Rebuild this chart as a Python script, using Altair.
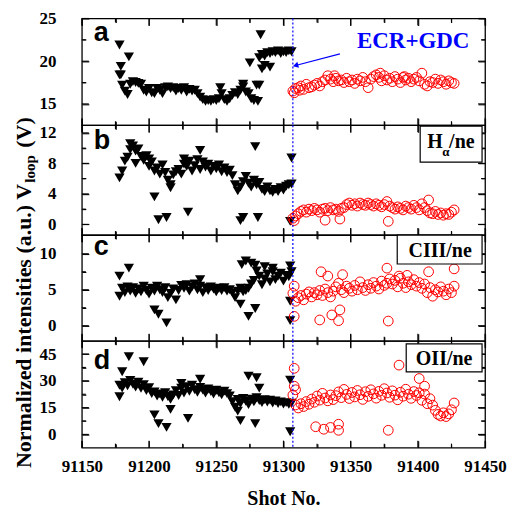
import altair as alt
import pandas as pd

# ---------------- data ----------------
x_major = [91150, 91200, 91250, 91300, 91350, 91400, 91450]
x_minor = [91175, 91225, 91275, 91325, 91375, 91425]
ecr_shot = [91307]

black_shots = list(range(91178, 91307, 2))   # 65 shots before ECR+GDC
red_shots = list(range(91307, 91428, 2))     # 61 shots after ECR+GDC

# panel a : V_loop
a_black = [18.4, 17.2, 16.5, 16.1, 17.3, 17.6, 17.5, 17.4, 17.3, 16.6, 16.4, 16.8, 16.3, 16.2, 16.8, 16.6,
           16.2, 16.9, 17.0, 16.8, 16.9, 16.5, 16.8, 16.6, 16.9, 16.4, 16.7, 16.5, 16.6, 16.2, 15.8, 15.5,
           15.3, 15.4, 15.3, 15.5, 15.4, 15.6, 16.2, 15.5, 15.3, 15.6, 16.0, 16.3, 16.1, 16.6, 17.0, 16.4,
           16.2, 15.6, 15.4, 17.2, 20.4, 20.8, 20.6, 21.0, 20.9, 21.1, 21.0, 21.2, 20.9, 21.1, 21.0, 21.2, 21.1]
a_black_x_shot = [91178, 91179, 91179, 91185, 91253, 91270, 91275, 91283, 91284, 91286, 91281, 91290, 91282]
a_black_x_val = [21.9, 19.4, 18.4, 20.5, 16.9, 17.3, 19.8, 23.1, 19.1, 19.5, 15.3, 19.3, 17.2]
a_red = [16.5, 16.8, 16.9, 17.1, 16.7, 17.3, 16.9, 17.0, 17.2, 17.4, 17.1, 17.6, 17.8, 18.3, 17.9, 17.6,
         18.0, 17.7, 17.8, 17.5, 18.0, 17.6, 17.8, 17.4, 17.9, 17.7, 18.1, 17.6, 16.9, 17.9, 18.2, 18.4,
         18.1, 17.7, 18.3, 17.8, 18.0, 17.6, 18.2, 17.9, 17.5, 18.1, 17.8, 18.0, 17.6, 17.9, 18.1, 17.7,
         18.6, 17.3, 17.1, 17.6, 17.5, 17.9, 17.4, 17.8, 17.6, 17.3, 17.7, 17.5, 17.4]
a_red_x_shot = [91308, 91312, 91338, 91372, 91390]
a_red_x_val = [16.3, 16.6, 18.3, 18.6, 18.2]

# panel b : H_alpha / ne
b_black = [6.1, 7.0, 8.3, 8.8, 9.8, 10.3, 9.6, 9.9, 8.9, 8.4, 9.0, 7.6, 8.2, 7.0, 7.4, 6.6,
           7.8, 6.8, 5.8, 5.2, 6.5, 6.9, 7.2, 6.6, 7.9, 7.6, 8.3, 7.0, 7.7, 8.5, 7.2, 8.2,
           7.5, 7.9, 7.0, 7.6, 7.3, 7.8, 6.9, 7.4, 6.8, 7.1, 6.4, 5.2, 4.4, 4.9, 5.6, 6.3,
           5.4, 4.9, 5.8, 5.2, 5.5, 4.6, 4.3, 4.9, 4.4, 4.2, 4.6, 4.3, 4.8, 4.5, 5.0, 5.2, 5.3]
b_black_x_shot = [91186, 91204, 91207, 91213, 91216, 91229, 91238, 91268, 91270, 91279, 91281, 91306, 91305,
                  91200, 91190, 91226]
b_black_x_val = [10.6, 3.6, 0.6, 0.9, 4.8, 1.6, 9.7, 0.5, 0.9, 10.2, 0.9, 8.7, 0.4, 8.6, 8.0, 8.6]
b_red = [0.8, 1.1, 1.4, 1.7, 1.9, 1.6, 2.0, 1.8, 2.1, 1.9, 1.6, 2.0, 2.1, 1.8, 2.2, 1.9,
         2.0, 1.7, 2.1, 2.2, 2.6, 2.8, 2.5, 2.7, 2.4, 2.8, 2.6, 2.5, 2.8, 2.6, 2.4, 2.7,
         2.5, 2.3, 2.6, 3.0, 2.4, 2.2, 2.0, 2.3, 2.1, 1.9, 2.4, 2.2, 2.0, 2.5, 2.2, 1.9,
         2.7, 2.2, 1.8, 1.5, 1.4, 1.7, 1.3, 1.5, 1.2, 1.4, 1.3, 1.6, 1.9]
b_red_x_shot = [91331, 91342, 91378, 91408, 91308]
b_red_x_val = [0.55, 0.7, 0.4, 3.2, 0.5]

# panel c : CIII / ne
c_black = [4.1, 5.2, 4.6, 5.4, 4.8, 5.3, 4.5, 5.1, 4.7, 5.5, 4.9, 4.4, 5.2, 4.8, 5.5, 5.0,
           4.6, 5.3, 3.9, 4.5, 5.1, 3.6, 4.9, 5.6, 5.2, 5.7, 4.8, 5.4, 5.8, 5.0, 5.5, 4.6,
           5.3, 4.9, 5.4, 5.1, 4.7, 5.2, 4.9, 5.3, 4.8, 5.0, 4.6, 3.9, 4.8, 5.2, 4.7, 4.9,
           5.2, 5.8, 6.3, 7.6, 6.9, 5.7, 6.5, 7.2, 6.1, 7.5, 6.4, 6.9, 7.3, 6.2, 7.0, 6.8, 7.5]
c_black_x_shot = [91178, 91185, 91204, 91207, 91213, 91238, 91268, 91269, 91272, 91276, 91279, 91274,
                  91279, 91305, 91305, 91305, 91286, 91292]
c_black_x_val = [6.9, 8.0, 2.2, 1.6, 0.4, 6.4, 3.0, 8.5, 9.0, 8.7, 8.4, 1.3,
                 2.4, 8.3, 3.4, 0.7, 8.2, 8.0]
c_red = [4.5, 3.4, 3.9, 4.2, 3.6, 4.4, 4.7, 4.0, 4.6, 4.3, 4.9, 4.2, 5.1, 4.6, 4.0, 4.8,
         5.4, 5.9, 5.0, 4.6, 5.5, 5.2, 4.8, 5.6, 5.0, 6.1, 5.3, 4.9, 5.7, 5.2, 6.0, 5.5,
         5.1, 6.2, 5.6, 5.9, 6.5, 5.8, 6.3, 5.4, 6.6, 5.9, 5.3, 6.1, 5.7, 6.4, 5.5, 6.0,
         5.2, 5.8, 4.6, 5.3, 4.1, 5.0, 4.7, 5.4, 4.8, 4.3, 5.1, 4.6, 5.5]
c_red_x_shot = [91308, 91308, 91328, 91333, 91327, 91336, 91342, 91341, 91344, 91377, 91378, 91408,
                91427, 91386, 91392]
c_red_x_val = [5.5, 1.3, 7.5, 6.9, 0.8, 1.5, 2.2, 0.7, 7.1, 8.0, 0.65, 7.5, 7.9, 6.9, 7.0]

# panel d : OII / ne
d_black = [27.5, 26.0, 29.0, 27.2, 30.2, 28.1, 26.5, 29.3, 25.8, 27.9, 24.6, 26.2, 22.9, 23.8, 21.5, 22.7,
           20.8, 23.4, 21.2, 19.6, 22.1, 24.5, 21.8, 25.9, 23.2, 26.7, 24.1, 27.5, 25.0, 23.6, 26.3, 24.8,
           23.1, 25.4, 24.0, 22.6, 24.7, 23.3, 22.1, 24.2, 22.8, 21.5, 18.4, 15.2, 19.6, 17.3, 20.1, 18.5,
           16.7, 19.8, 18.2, 20.5, 19.0, 17.8, 19.5, 18.1, 19.2, 17.6, 18.7, 17.3, 18.2, 17.0, 17.8, 16.9, 17.5]
d_black_x_shot = [91180, 91185, 91196, 91178, 91204, 91207, 91213, 91216, 91229, 91238, 91268, 91274,
                  91280, 91279, 91282, 91305, 91305, 91266, 91224]
d_black_x_val = [35.1, 43.5, 40.7, 21.1, 10.9, 6.0, 3.9, 14.0, 9.0, 30.9, 7.7, 32.6,
                 31.7, 6.0, 25.9, 30.4, 1.5, 13.0, 28.5]
d_red = [22.0, 16.5, 14.8, 17.2, 15.6, 18.4, 16.9, 19.8, 18.0, 21.5, 19.2, 23.0, 20.4, 18.8, 22.1, 19.5,
         21.7, 23.8, 20.6, 25.2, 22.4, 20.1, 23.5, 21.0, 24.6, 22.2, 19.6, 23.9, 21.3, 25.0, 22.7, 20.3,
         24.1, 21.9, 25.6, 23.2, 20.8, 24.4, 22.0, 19.4, 23.6, 21.4, 25.3, 22.5, 20.2, 24.0, 21.8, 23.3,
         19.1, 22.6, 17.2, 20.0, 16.4, 13.5, 11.2, 10.3, 12.1, 10.0, 11.5, 13.8, 17.6]
d_red_x_shot = [91308, 91308, 91324, 91330, 91335, 91341, 91341, 91378, 91386, 91401, 91405, 91309]
d_red_x_val = [37.0, 27.0, 4.3, 2.9, 3.9, 5.7, 2.3, 2.3, 38.8, 31.3, 27.0, 25.0]

# annotation arrow (panel a, data units)
arrow_shot = [91342, 91309]
arrow_val = [20.85, 19.5]

SERIF = "Liberation Serif"
SANS = "Liberation Sans"
W = 404
X_DOMAIN = [91150, 91450]
MAJ, MIN = 7, 4
VBAR = "M0,-1L0,1"   # vertical stroke symbol
HBAR = "M-1,0L1,0"   # horizontal stroke symbol


def df(s, v):
    return pd.DataFrame({"shot": s, "val": v})


def inward(n):
    return alt.ExprRef(expr=str(-n))


def tick_axis(orient, values, size):
    # axis shifted inside the frame so that its outward ticks end on the frame: inward ticks
    return alt.Axis(orient=orient, values=values, ticks=True, tickSize=size, offset=inward(size),
                    tickColor="black", tickWidth=1.1, labels=False, title=None)


def tick_layers(sx, sy, ydom, ymaj, ymin):
    """Inward ticks on all four sides: short stroke symbols placed through the scales
    at the frame edges and nudged inside by half their length."""
    out = []
    for vals, size in ((x_major, MAJ), (x_minor, MIN)):
        for edge, off in ((ydom[0], -size / 2), (ydom[1], size / 2)):
            d = df(vals, [edge] * len(vals))
            out.append(alt.Chart(d).mark_point(
                shape=VBAR, size=size * size, filled=False, color="black", strokeWidth=1.1,
                opacity=1, yOffset=off).encode(
                x=alt.X("shot:Q", scale=sx, axis=None), y=alt.Y("val:Q", scale=sy, axis=None)))
    for vals, size in ((ymaj, MAJ), (ymin, MIN)):
        for edge, off in ((X_DOMAIN[0], size / 2), (X_DOMAIN[1], -size / 2)):
            d = df([edge] * len(vals), vals)
            out.append(alt.Chart(d).mark_point(
                shape=HBAR, size=size * size, filled=False, color="black", strokeWidth=1.1,
                opacity=1, xOffset=off).encode(
                x=alt.X("shot:Q", scale=sx, axis=None), y=alt.Y("val:Q", scale=sy, axis=None)))
    return out


def panel(letter, letter_y, ydom, ymaj, ymin, bk, bkxs, bkxv, rd, rdxs, rdxv,
          last=False, box=None):
    sx = alt.Scale(domain=X_DOMAIN, nice=False, zero=False)
    sy = alt.Scale(domain=ydom, nice=False, zero=False)
    tri = dict(shape="triangle-down", filled=True, color="black", size=105, opacity=1)
    circ = dict(shape="circle", filled=False, color="#ff0000", size=95, strokeWidth=1, opacity=1)

    xb_kw = dict(orient="bottom", values=x_major, ticks=True, tickSize=MAJ, offset=inward(MAJ),
                 tickColor="black", tickWidth=1.1, labels=last, format="d",
                 labelPadding=11, labelFlush=False, labelOverlap=False)
    if last:
        xb_kw.update(title="Shot No.", titlePadding=14)
    else:
        xb_kw.update(title=None)
    yl_kw = dict(orient="left", values=ymaj, ticks=True, tickSize=MAJ, offset=inward(MAJ),
                 tickColor="black", tickWidth=1.1, labelPadding=26, labelFlush=False,
                 labelOverlap=False, title=None)

    l1 = alt.Chart(df(black_shots, bk)).mark_point(**tri).encode(
        x=alt.X("shot:Q", scale=sx, axis=alt.Axis(**xb_kw)),
        y=alt.Y("val:Q", scale=sy, axis=alt.Axis(**yl_kw)))
    l2 = alt.Chart(df(bkxs, bkxv)).mark_point(**tri).encode(
        x=alt.X("shot:Q", scale=sx, axis=tick_axis("bottom", x_minor, MIN)),
        y=alt.Y("val:Q", scale=sy, axis=tick_axis("left", ymin, MIN)))
    l3 = alt.Chart(df(red_shots, rd)).mark_point(**circ).encode(
        x=alt.X("shot:Q", scale=sx, axis=tick_axis("top", x_major, MAJ)),
        y=alt.Y("val:Q", scale=sy, axis=tick_axis("right", ymaj, MAJ)))
    l4 = alt.Chart(df(rdxs, rdxv)).mark_point(**circ).encode(
        x=alt.X("shot:Q", scale=sx, axis=tick_axis("top", x_minor, MIN)),
        y=alt.Y("val:Q", scale=sy, axis=tick_axis("right", ymin, MIN)))
    vline = alt.Chart(pd.DataFrame({"shot": ecr_shot})).mark_rule(
        color="#0000ff", strokeWidth=1.2, strokeDash=[2, 2]).encode(
        x=alt.X("shot:Q", scale=sx, axis=None))
    lab = alt.Chart(pd.DataFrame({"t": [letter]})).mark_text(
        font=SANS, fontWeight="bold", fontSize=27, align="left", baseline="alphabetic",
        color="black").encode(text="t:N", x=alt.value(12), y=alt.value(letter_y))
    layers = [l1, l2, l3, l4] + tick_layers(sx, sy, ydom, ymaj, ymin) + [vline, lab]
    if box is not None:
        bx0, bx1, by0, by1, parts = box
        rect = alt.Chart(pd.DataFrame({"k": [1]})).mark_rect(
            fill="white", stroke="black", strokeWidth=1.2).encode(
            x=alt.value(bx0), x2=alt.value(bx1), y=alt.value(by0), y2=alt.value(by1))
        layers.append(rect)
        for txt, tx, ty, fs, al in parts:
            layers.append(alt.Chart(pd.DataFrame({"t": [txt]})).mark_text(
                font=SERIF, fontWeight="bold", fontSize=fs, align=al, baseline="alphabetic",
                color="black").encode(text="t:N", x=alt.value(tx), y=alt.value(ty)))
    return layers, sx, sy


# panel a
la, sxa, sya = panel("a", 23, [12.5, 25], [15, 20, 25], [17.5, 22.5],
                     a_black, a_black_x_shot, a_black_x_val, a_red, a_red_x_shot, a_red_x_val)
ecr = alt.Chart(pd.DataFrame({"t": ["ECR+GDC"]})).mark_text(
    font=SERIF, fontWeight="bold", fontSize=23, align="center", baseline="alphabetic",
    color="#0000ff").encode(text="t:N", x=alt.value(332), y=alt.value(30))
arrow_df = pd.DataFrame({"shot": arrow_shot, "val": arrow_val})
arrow_line = alt.Chart(arrow_df).mark_line(color="#0000ff", strokeWidth=1.2).encode(
    x=alt.X("shot:Q", scale=sxa, axis=None), y=alt.Y("val:Q", scale=sya, axis=None))
arrow_head = alt.Chart(arrow_df.iloc[[1]]).mark_point(
    shape="triangle-left", filled=True, color="#0000ff", size=40, angle=345, opacity=1).encode(
    x=alt.X("shot:Q", scale=sxa, axis=None), y=alt.Y("val:Q", scale=sya, axis=None))
pa = alt.layer(*la, ecr, arrow_line, arrow_head).resolve_axis(x="independent", y="independent") \
    .properties(width=W, height=107)

# panel b
lb, _, _ = panel("b", 24, [-1.4, 13], [0, 4, 8, 12], [2, 6, 10],
                 b_black, b_black_x_shot, b_black_x_val, b_red, b_red_x_shot, b_red_x_val,
                 box=(339, 401, 1, 37, [("H", 346, 23, 20, "left"), ("\u03b1", 361, 31, 13, "left"),
                                        ("/ne", 368, 23, 20, "left")]))
pb = alt.layer(*lb).resolve_axis(x="independent", y="independent").properties(width=W, height=110)

# panel c (also carries the shared y title, written in three pieces for the subscript)
lc, _, _ = panel("c", 20, [-2.1, 12.6], [0, 5, 10], [2.5, 7.5],
                 c_black, c_black_x_shot, c_black_x_val, c_red, c_red_x_shot, c_red_x_val,
                 box=(316, 401, 0, 29, [("CIII/ne", 359, 22, 20, "center")]))
ytitle_parts = [("Normalized intensities (a.u.) V", -50.7, 233.5, 22),
                ("loop", -46.5, -52.5, 15),
                ("(V)", -50.7, -87.5, 22)]
for txt, tx, ty, fs in ytitle_parts:
    lc.append(alt.Chart(pd.DataFrame({"t": [txt]})).mark_text(
        font=SERIF, fontWeight="bold", fontSize=fs, align="left", baseline="alphabetic",
        angle=270, color="black").encode(text="t:N", x=alt.value(tx), y=alt.value(ty)))
pc = alt.layer(*lc).resolve_axis(x="independent", y="independent").properties(width=W, height=106)

# panel d
ld, _, _ = panel("d", 28, [-7.4, 52.4], [0, 15, 30, 45], [7.5, 22.5, 37.5],
                 d_black, d_black_x_shot, d_black_x_val, d_red, d_red_x_shot, d_red_x_val,
                 last=True, box=(325, 401, 3, 31, [("OII/ne", 363, 24, 20, "center")]))
pd_ = alt.layer(*ld).resolve_axis(x="independent", y="independent").properties(width=W, height=107)

chart = alt.vconcat(pa, pb, pc, pd_, spacing=0, bounds="flush").properties(
    padding={"left": 4, "top": 0, "right": 5, "bottom": 0}
).configure_view(stroke="black", strokeWidth=1.3).configure_axis(
    grid=False, domain=False, labelFont=SERIF, labelFontWeight="bold", labelFontSize=17,
    labelColor="black", titleFont=SERIF, titleFontWeight="bold", titleFontSize=20,
    titleColor="black")

chart.save("out.html", embed_options={"renderer": "svg", "actions": False})
